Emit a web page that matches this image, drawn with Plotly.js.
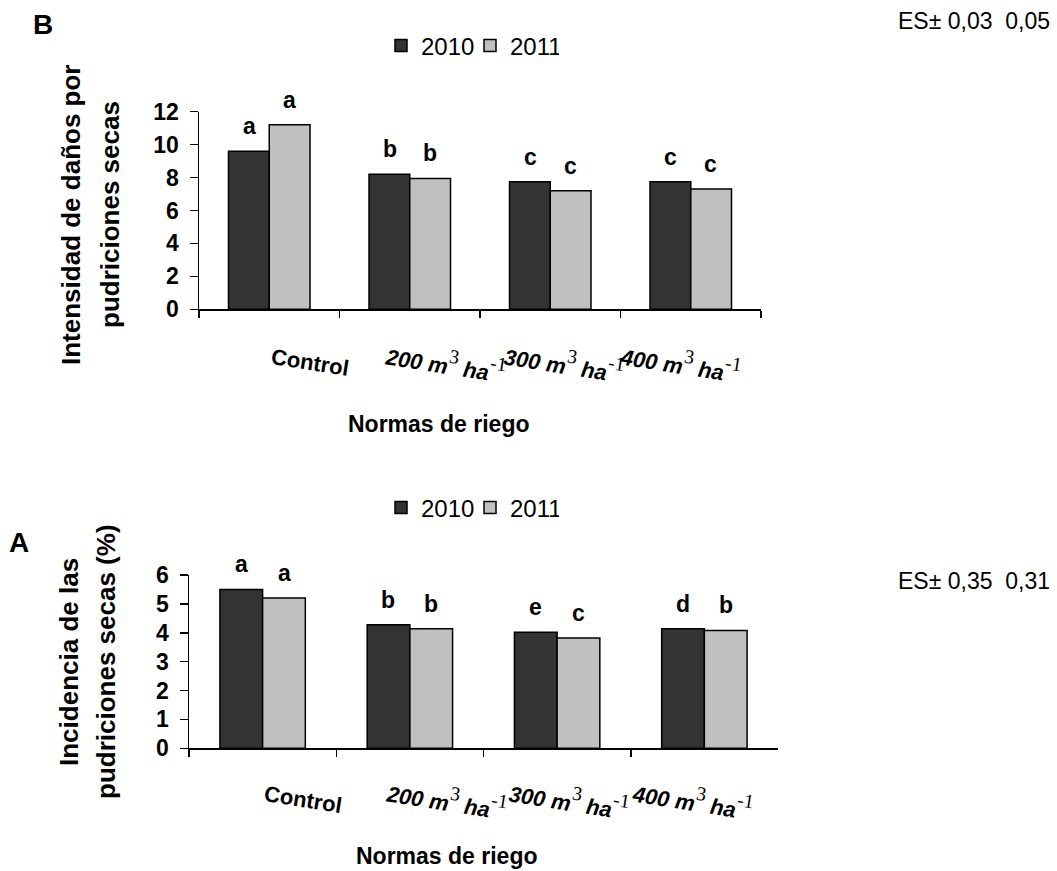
<!DOCTYPE html>
<html>
<head>
<meta charset="utf-8">
<script src="https://cdn.plot.ly/plotly-3.0.1.min.js"></script>
<style>html,body{margin:0;padding:0;background:#fff;}#chart{width:1057px;height:871px;}</style>
</head>
<body>
<div id="chart"></div>
<script>
// ---------- DATA ----------
const categories = ['Control', '200 m3 ha-1', '300 m3 ha-1', '400 m3 ha-1'];
const years = ['2010', '2011'];
// Panel B: Intensidad de daños por pudriciones secas
const intensidad2010 = [9.6, 8.2, 7.75, 7.75];
const intensidad2011 = [11.2, 7.95, 7.2, 7.3];
const letrasB2010 = ['a', 'b', 'c', 'c'];
const letrasB2011 = ['a', 'b', 'c', 'c'];
// Panel A: Incidencia de las pudriciones secas (%)
const incidencia2010 = [5.5, 4.28, 4.02, 4.14];
const incidencia2011 = [5.2, 4.14, 3.82, 4.08];
const letrasA2010 = ['a', 'b', 'e', 'd'];
const letrasA2011 = ['a', 'b', 'c', 'b'];
const esB = 'ES± 0,03\u00a0\u00a00,05';
const esA = 'ES± 0,35\u00a0\u00a00,31';

// ---------- LAYOUT HELPERS ----------
const W = 1057, H = 871;
const px = x => x / W;
const py = y => 1 - y / H;
const FONT = 'Liberation Sans, Arial, sans-serif';
const SERIF = 'Liberation Serif';
const col2010 = '#333333', col2011 = '#c0c0c0';

function labelHtml(cat) {
  if (cat === 'Control') return '<b>Control</b>';
  const n = cat.split(' ')[0];
  const sup = t => '<span style="font-family:' + SERIF + ';font-weight:normal;font-style:normal;font-size:28px"><sup>' + t + '</sup></span>';
  return '<b><i>' + n + ' m</i></b>' + sup('3') + '<b><i> ha</i></b>' + sup('-1');
}

function bar(name, y, color, xa, ya, legend, show) {
  return {
    type: 'bar', name: name, x: categories, y: y, xaxis: xa, yaxis: ya,
    legend: legend, showlegend: show,
    marker: {color: color, line: {color: '#000', width: 1.5}},
    hoverinfo: 'skip'
  };
}

const data = [
  bar(years[0], intensidad2010, col2010, 'x', 'y', 'legend', true),
  bar(years[1], intensidad2011, col2011, 'x', 'y', 'legend', true),
  bar(years[0], incidencia2010, col2010, 'x2', 'y2', 'legend2', true),
  bar(years[1], incidencia2011, col2011, 'x2', 'y2', 'legend2', true)
];

const annotations = [];
function addLetters(letters, vals, xref, yref, shift) {
  letters.forEach((t, i) => annotations.push({
    x: categories[i], y: vals[i], xref: xref, yref: yref, xshift: shift, yshift: 10,
    yanchor: 'bottom', text: '<b>' + t + '</b>', showarrow: false,
    font: {family: FONT, size: 23, color: '#000'}
  }));
}
addLetters(letrasB2010, intensidad2010, 'x', 'y', -20);
addLetters(letrasB2011, intensidad2011, 'x', 'y', 20);
addLetters(letrasA2010, incidencia2010, 'x2', 'y2', -21.5);
addLetters(letrasA2011, incidencia2011, 'x2', 'y2', 21.5);

// category labels (rotated, offset as in original)
const labShiftB = [41, 36, 14, -10];
const labShiftA = [40, 37, 12, -12];
categories.forEach((c, i) => {
  annotations.push({x: c, y: 0, xref: 'x', yref: 'y', xshift: labShiftB[i], yshift: -53,
    text: labelHtml(c), showarrow: false, textangle: 9, xanchor: 'center', yanchor: 'middle',
    font: {family: FONT, size: 22, color: '#000'}});
  annotations.push({x: c, y: 0, xref: 'x2', yref: 'y2', xshift: labShiftA[i], yshift: -51,
    text: labelHtml(c), showarrow: false, textangle: 9, xanchor: 'center', yanchor: 'middle',
    font: {family: FONT, size: 22, color: '#000'}});
});

function paperText(text, x, y, size, bold, angle, xanchor) {
  annotations.push({x: px(x), y: py(y), xref: 'paper', yref: 'paper', text: bold ? '<b>' + text + '</b>' : text,
    showarrow: false, textangle: angle || 0, xanchor: xanchor || 'center', yanchor: 'middle',
    font: {family: FONT, size: size, color: '#000'}});
}
// axis titles
paperText('Normas de riego', 439, 424, 23, true);
paperText('Normas de riego', 447, 856, 23, true);
paperText('Intensidad de daños por', 71, 215, 26, true, -90);
paperText('pudriciones secas', 110, 215, 26, true, -90);
paperText('Incidencia de las', 69, 662, 26, true, -90);
paperText('pudriciones secas (%)', 106, 662, 26, true, -90);
// panel letters
paperText('B', 43, 25, 28, true);
paperText('A', 18.5, 542.5, 28, true);
// ES
paperText(esB, 896, 21, 23, false, 0, 'left');
paperText(esA, 896, 581, 23, false, 0, 'left');

function xax(d) {
  return {type: 'category', domain: d, showline: true, linecolor: '#000', linewidth: 1.5,
    ticks: 'outside', tickson: 'boundaries', ticklen: 7, tickwidth: 1.5, tickcolor: '#000',
    showticklabels: false, showgrid: false, zeroline: false, fixedrange: true};
}
function yax(d, range, anchor) {
  return {domain: d, range: range, dtick: range[1] / 6 > 1 ? 2 : 1, anchor: anchor,
    showline: true, linecolor: '#000', linewidth: 1.5, ticks: 'outside', ticklen: 8, tickwidth: 1.5,
    tickcolor: '#000', showgrid: false, zeroline: false, fixedrange: true, ticklabelstandoff: 6,
    tickfont: {family: FONT, size: 23, color: '#000', weight: 'bold'}};
}

const legendStyle = {orientation: 'h', xanchor: 'left', yanchor: 'middle',
  entrywidth: 44, entrywidthmode: 'pixels',
  font: {family: FONT, size: 24, color: '#000'}, bgcolor: 'rgba(0,0,0,0)',
  itemclick: false, itemdoubleclick: false};

const layout = {
  width: W, height: H, margin: {l: 0, r: 0, t: 0, b: 0},
  paper_bgcolor: '#fff', plot_bgcolor: '#fff',
  barmode: 'group', bargap: 0.42, bargroupgap: 0,
  xaxis: Object.assign(xax([px(199), px(761)]), {anchor: 'y'}),
  yaxis: yax([py(309.3), py(111.7)], [0, 12], 'x'),
  xaxis2: Object.assign(xax([px(189), px(778)]), {anchor: 'y2'}),
  yaxis2: yax([py(748.3), py(575)], [0, 6], 'x2'),
  legend: Object.assign({x: px(381), y: py(46)}, legendStyle),
  legend2: Object.assign({x: px(381), y: py(508)}, legendStyle),
  annotations: annotations,
  showlegend: true
};

Plotly.newPlot('chart', data, layout, {displayModeBar: false, staticPlot: true});
</script>
</body>
</html>
